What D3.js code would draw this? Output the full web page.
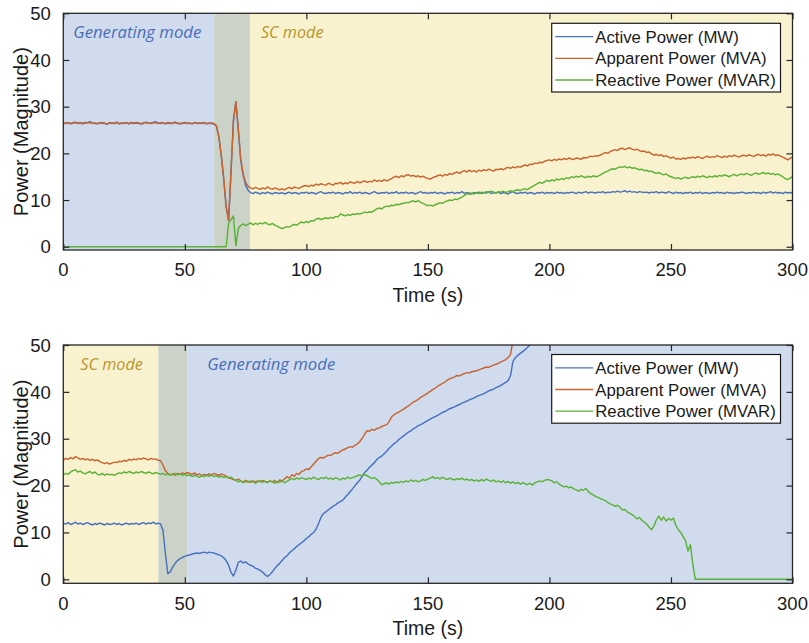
<!DOCTYPE html>
<html>
<head>
<meta charset="utf-8">
<script src="https://cdn.jsdelivr.net/npm/d3@7"></script>
<style>
  html, body { margin: 0; padding: 0; background: #ffffff; }
  svg { display: block; }
  .axis-text { font-family: "Liberation Sans", Arial, Helvetica, sans-serif; fill: #1a1a1a; }
  .mode-text { font-family: "Open Sans", "Lato", sans-serif; font-style: italic; }
</style>
</head>
<body>
<svg id="chart" width="809" height="643"></svg>
<script>
// ---------------------------------------------------------------------------
// Measured power, one sample per second (index = time in seconds)
// ---------------------------------------------------------------------------
const xTicks = [0, 50, 100, 150, 200, 250, 300];
const yTicks = [0, 10, 20, 30, 40, 50];
const seriesNames  = ["Active Power (MW)", "Apparent Power (MVA)", "Reactive Power (MVAR)"];
const seriesColors = ["#4a71bd", "#c8642f", "#5cb236"];

// Operating-mode bands: [start s, end s, kind]
const topBands    = [[0, 62.1, "gen"], [62.1, 76.8, "trans"], [76.8, 300, "sc"]];
const bottomBands = [[0, 39.1, "sc"], [39.1, 51.0, "trans"], [51.0, 300, "gen"]];
const bandColors  = { gen: "#d0dcee", trans: "#cbd3c9", sc: "#f9f2cf" };
const modeNames   = { gen: "Generating mode", sc: "SC mode" };
const modeColors  = { gen: "#4b6db6", sc: "#b8952c" };

// Upper run: generating -> synchronous condenser
const topActive = [
  26.5,26.4,26.6,26.3,26.5,26.7,26.4,26.6,26.3,26.5,
  26.6,26.8,26.4,26.5,26.3,26.6,26.4,26.5,26.2,26.6,
  26.4,26.5,26.7,26.3,26.5,26.4,26.6,26.3,26.5,26.4,
  26.6,26.5,26.3,26.4,26.7,26.5,26.4,26.6,26.8,26.5,
  26.4,26.6,26.3,26.5,26.4,26.5,26.7,26.4,26.3,26.5,
  26.6,26.4,26.5,26.3,26.6,26.4,26.5,26.4,26.6,26.3,
  26.5,26.4,26.3,25.8,23.5,19.5,14.5,8.5,5.6,16.0,
  27.0,31.0,25.0,18.5,15.3,13.2,12.1,11.6,11.4,11.7,
  11.5,11.3,11.6,11.4,11.7,11.5,11.3,11.6,11.5,11.4,
  11.6,11.3,11.5,11.7,11.4,11.6,11.5,11.3,11.6,11.5,
  11.7,11.4,11.6,11.5,11.3,11.6,11.8,11.5,11.4,11.6,
  11.5,11.7,11.4,11.6,11.5,11.3,11.6,11.5,11.8,11.4,
  11.6,11.5,11.7,11.4,11.6,11.5,11.3,11.6,11.8,11.5,
  11.4,11.6,11.5,11.7,11.4,11.6,11.5,11.8,11.4,11.6,
  11.5,11.7,11.4,11.6,11.5,11.3,11.6,11.8,11.5,11.6,
  11.4,11.6,11.5,11.7,11.4,11.6,11.5,11.3,11.6,11.5,
  11.7,11.4,11.6,11.5,11.8,11.4,11.6,11.5,11.3,11.6,
  11.5,11.7,11.4,11.6,11.5,11.8,11.4,11.6,11.5,11.7,
  11.4,11.6,11.5,11.3,11.6,11.8,11.5,11.4,11.6,11.5,
  11.7,11.4,11.6,11.5,11.3,11.6,11.5,11.7,11.4,11.6,
  11.5,11.6,11.4,11.7,11.5,11.6,11.4,11.6,11.5,11.7,
  11.6,11.4,11.7,11.5,11.6,11.8,11.5,11.7,11.6,11.5,
  11.7,11.6,11.8,11.5,11.7,11.6,11.8,11.7,11.9,11.7,
  11.8,12.0,11.7,11.9,11.7,11.8,11.6,11.8,11.7,11.6,
  11.7,11.5,11.7,11.6,11.8,11.5,11.7,11.6,11.5,11.8,
  11.6,11.4,11.7,11.5,11.6,11.4,11.6,11.5,11.7,11.4,
  11.6,11.5,11.7,11.4,11.6,11.5,11.4,11.6,11.5,11.7,
  11.5,11.6,11.4,11.7,11.5,11.6,11.4,11.6,11.5,11.7,
  11.6,11.4,11.6,11.5,11.7,11.5,11.6,11.4,11.7,11.5,
  11.6,11.8,11.5,11.7,11.5,11.6,11.4,11.7,11.5,11.6,
  11.5
];

const topApparent = [
  26.4,26.5,26.5,26.4,26.6,26.5,26.5,26.4,26.5,26.6,
  26.5,26.6,26.5,26.4,26.4,26.5,26.6,26.4,26.3,26.5,
  26.5,26.4,26.6,26.4,26.4,26.5,26.5,26.4,26.6,26.5,
  26.5,26.4,26.4,26.5,26.6,26.4,26.5,26.5,26.6,26.4,
  26.5,26.5,26.4,26.6,26.5,26.4,26.6,26.5,26.4,26.4,
  26.5,26.5,26.4,26.4,26.5,26.5,26.4,26.5,26.5,26.4,
  26.4,26.5,26.4,25.9,23.6,19.6,14.6,8.6,5.7,16.1,
  27.1,31.1,25.2,18.8,15.6,13.8,13.0,12.6,12.4,12.7,
  12.5,12.3,12.6,12.4,12.8,12.5,12.3,12.6,12.4,12.2,
  12.4,12.2,12.5,12.7,12.4,12.8,12.6,12.5,12.8,13.0,
  13.1,12.9,13.2,13.0,13.4,13.2,13.5,13.3,13.2,13.6,
  13.4,13.2,13.6,13.5,13.8,13.4,13.7,13.5,13.9,13.7,
  13.6,14.0,13.7,13.9,14.1,13.8,14.0,13.9,14.3,14.0,
  14.2,14.0,14.4,14.1,14.3,14.6,14.9,15.1,14.8,15.2,
  15.0,15.3,15.4,15.1,15.3,15.0,15.2,14.9,15.1,14.8,
  14.6,14.5,14.8,15.0,15.2,15.4,15.1,15.5,15.3,15.7,
  15.5,15.8,16.0,15.7,16.1,16.3,16.0,16.4,16.1,16.3,
  16.0,16.4,16.2,16.5,16.3,16.6,16.4,16.2,16.6,16.5,
  16.7,16.5,16.8,17.0,16.8,17.1,16.9,17.2,17.0,17.3,
  17.5,17.3,17.7,17.6,17.9,17.8,18.1,18.0,18.3,18.5,
  18.6,18.4,18.7,18.5,18.8,18.6,18.9,18.7,19.0,18.8,
  18.7,19.0,18.9,18.7,19.1,19.0,19.2,19.4,19.3,19.5,
  19.4,19.7,19.9,20.2,20.0,20.4,20.6,20.8,20.6,21.0,
  21.1,20.8,21.0,21.2,20.9,20.7,20.9,20.6,20.4,20.5,
  20.2,20.3,19.9,19.6,19.8,19.5,19.7,19.3,19.5,19.2,
  19.0,19.2,18.8,18.9,18.7,19.0,18.8,19.1,19.0,19.2,
  19.0,19.3,19.1,18.9,19.2,19.4,19.1,19.3,19.2,19.5,
  19.3,19.1,19.4,19.2,19.5,19.3,19.6,19.4,19.2,19.5,
  19.6,19.4,19.7,19.5,19.3,19.6,19.8,19.5,19.7,19.4,
  19.8,19.6,19.9,19.5,19.7,19.4,19.2,18.9,18.6,18.9,
  19.2
];

const topReactive = [
  0,0,0,0,0,0,0,0,0,0,
  0,0,0,0,0,0,0,0,0,0,
  0,0,0,0,0,0,0,0,0,0,
  0,0,0,0,0,0,0,0,0,0,
  0,0,0,0,0,0,0,0,0,0,
  0,0,0,0,0,0,0,0,0,0,
  0,0,0,0,0,0,0,0,5.0,5.8,
  6.6,0.2,3.9,4.6,4.9,4.5,4.8,5.1,4.7,5.0,
  4.8,5.1,4.9,5.2,4.9,4.7,5.0,4.6,4.4,4.1,
  3.9,4.1,4.3,4.2,4.5,4.8,4.6,5.0,5.3,5.1,
  5.4,5.2,5.6,5.5,5.9,6.1,5.8,6.0,6.2,6.0,
  6.3,6.1,6.5,6.4,7.0,6.8,6.6,6.9,6.7,7.0,
  6.9,7.1,7.0,7.2,7.4,7.3,7.5,7.4,7.8,8.1,
  8.3,8.1,8.5,8.7,8.6,8.9,8.8,9.1,9.0,9.2,
  9.3,9.5,9.4,9.7,9.8,9.6,9.9,9.5,9.3,9.0,
  8.8,8.9,8.7,9.0,9.2,9.4,9.3,9.6,9.8,10.0,
  9.9,10.2,10.1,10.4,10.6,11.0,11.4,11.2,11.5,11.3,
  11.6,11.4,11.7,11.5,11.8,11.6,11.9,11.7,11.5,11.8,
  11.7,11.9,11.6,11.8,12.0,11.8,12.1,12.2,12.0,12.3,
  12.4,12.2,12.6,12.9,13.2,13.5,13.8,13.6,13.9,14.2,
  14.0,14.3,14.1,14.5,14.3,14.6,14.4,14.8,14.6,15.0,
  14.8,15.1,14.9,15.2,15.0,14.8,15.1,14.9,15.2,15.0,
  15.1,15.4,15.7,16.0,16.2,16.5,16.7,16.6,16.9,17.1,
  17.0,17.2,16.9,17.1,16.8,16.9,16.7,16.5,16.6,16.3,
  16.4,16.1,16.2,15.9,15.7,15.9,15.6,15.4,15.6,15.2,
  15.0,14.8,14.6,14.8,14.5,14.7,14.9,14.6,14.8,15.0,
  14.8,15.1,14.9,15.2,15.0,14.8,15.1,14.9,15.2,15.0,
  15.3,15.1,15.4,15.2,15.0,15.3,15.5,15.2,15.4,15.6,
  15.4,15.7,15.5,15.3,15.6,15.8,15.5,15.7,15.9,15.6,
  15.8,15.5,15.7,15.4,15.6,15.3,15.0,14.6,14.4,14.7,
  15.0
];

// Lower run: synchronous condenser -> generating (runs off the top past ~190 s)
const bottomActive = [
  12.0,11.8,12.1,11.7,11.9,12.2,11.8,12.0,11.7,11.9,
  12.1,11.8,11.6,11.9,11.7,12.0,11.8,11.6,11.9,11.7,
  11.8,12.0,11.7,11.9,11.6,11.8,12.0,11.7,11.9,11.8,
  12.0,11.7,11.9,12.1,11.8,12.0,11.9,12.2,11.8,12.0,
  11.8,10.5,5.5,1.2,1.6,2.6,3.4,4.0,4.4,4.7,
  4.9,5.1,5.2,5.4,5.5,5.6,5.5,5.7,5.8,5.6,
  5.8,5.7,5.6,5.4,5.2,5.0,4.6,4.0,3.0,1.5,
  0.7,2.0,3.6,3.9,3.5,3.7,3.3,3.0,2.8,2.4,
  2.2,1.9,1.5,1.0,0.6,1.0,1.6,2.3,2.9,3.4,
  4.0,4.6,5.0,5.6,6.1,6.5,7.0,7.4,7.8,8.2,
  8.7,9.1,9.6,10.0,10.7,11.9,13.2,14.0,14.4,14.8,
  15.2,15.6,15.9,16.3,16.6,16.9,17.5,18.1,18.7,19.3,
  20.0,20.6,21.2,22.0,22.8,23.3,23.9,24.4,24.9,25.6,
  26.0,26.3,26.8,27.3,27.9,28.4,28.9,29.3,29.8,30.2,
  30.6,31.0,31.4,31.7,32.1,32.4,32.8,33.0,33.3,33.6,
  33.9,34.2,34.5,34.7,35.0,35.3,35.6,35.8,36.1,36.4,
  36.6,36.8,37.1,37.3,37.6,37.8,38.0,38.3,38.5,38.7,
  39.0,39.2,39.4,39.6,39.9,40.2,40.4,40.6,40.9,41.1,
  41.4,41.7,42.0,42.4,43.5,46.5,47.3,47.8,48.2,48.6,
  49.0,49.5,50.0,51.0
];

const bottomApparent = [
  25.4,25.8,25.6,26.0,25.7,26.2,25.9,25.6,25.8,25.5,
  25.7,25.4,25.6,25.3,25.5,25.1,24.9,24.7,24.9,24.6,
  24.8,25.0,24.9,25.2,25.1,25.4,25.2,25.6,25.4,25.7,
  25.5,25.8,25.6,25.9,25.7,25.5,25.8,25.6,25.7,25.4,
  25.3,24.4,23.2,22.6,22.3,22.5,22.2,22.6,22.4,22.7,
  22.5,22.8,22.6,22.4,22.7,22.3,22.5,22.1,22.4,22.2,
  22.5,22.3,22.6,22.4,22.2,22.5,22.3,22.0,21.7,21.5,
  21.3,21.1,21.4,21.0,20.8,21.1,20.9,20.7,21.0,20.8,
  21.0,20.8,21.1,20.9,20.7,21.0,20.8,21.1,20.6,21.2,
  21.0,21.4,21.9,21.6,22.3,22.0,22.6,22.4,23.0,23.2,
  23.6,23.4,24.0,24.6,25.2,25.8,26.0,25.9,26.2,26.5,
  26.4,26.8,27.0,26.9,27.3,27.6,27.8,28.1,28.3,28.2,
  28.6,28.9,29.4,30.1,31.0,31.7,31.6,32.0,31.8,32.2,
  32.3,32.6,32.8,33.0,33.6,34.6,35.1,35.4,35.7,36.0,
  36.3,36.7,37.0,37.4,37.8,38.1,38.4,38.8,39.1,39.4,
  39.8,40.1,40.5,40.8,41.2,41.5,41.8,42.1,42.5,42.8,
  43.0,43.2,43.5,43.4,43.7,43.9,44.1,44.0,44.3,44.4,
  44.5,44.7,44.9,45.1,45.3,45.2,45.5,45.7,45.9,46.1,
  46.4,46.6,46.9,47.3,48.0,51.0
];

const bottomReactive = [
  22.3,22.6,22.4,22.9,23.2,23.4,22.9,23.1,22.7,22.5,
  22.8,23.0,22.6,22.9,22.4,22.3,22.6,22.2,22.5,22.3,
  22.4,22.2,22.5,22.7,22.6,22.9,22.7,23.0,22.8,22.6,
  22.9,22.7,23.0,22.8,22.6,22.9,22.7,22.5,22.8,22.6,
  22.4,22.6,22.3,22.5,22.2,22.4,22.6,22.3,22.5,22.2,
  22.4,22.1,22.3,21.9,22.2,22.0,21.8,22.1,21.9,22.2,
  22.0,22.2,21.9,22.1,21.8,22.0,21.7,21.9,21.6,21.8,
  21.4,21.1,20.8,21.0,20.6,20.9,20.7,21.0,20.8,20.5,
  20.8,21.0,20.7,20.9,20.6,21.0,20.8,20.5,20.9,20.7,
  21.0,20.6,20.9,21.2,21.5,21.3,21.6,21.4,21.7,21.5,
  21.3,21.6,21.4,21.8,21.5,21.3,21.7,21.5,21.8,21.4,
  21.6,21.3,21.7,21.5,21.2,21.6,21.4,21.8,21.5,21.7,
  21.9,22.1,22.3,22.0,22.4,22.1,21.8,21.5,21.7,21.3,
  20.8,20.2,20.4,20.6,20.3,20.7,20.5,20.8,20.6,20.9,
  20.7,21.0,20.8,21.2,20.9,21.1,20.8,21.0,21.3,21.1,
  21.4,21.6,21.9,21.5,21.7,21.4,21.8,21.5,21.3,21.6,
  21.4,21.2,21.5,21.3,21.6,21.2,21.4,21.1,21.3,21.0,
  21.2,20.9,21.3,21.0,21.4,21.1,20.9,21.2,20.8,21.0,
  20.7,21.0,20.6,20.9,20.5,20.8,20.4,20.7,20.3,20.6,
  20.4,20.2,20.5,20.1,20.6,20.8,21.0,20.8,21.1,21.3,
  21.2,21.0,20.6,20.8,20.3,20.0,19.7,19.9,19.5,19.7,
  19.3,19.1,18.8,19.2,19.0,19.4,18.7,18.3,18.0,17.7,
  17.5,17.2,17.0,16.8,16.4,16.1,15.9,15.6,15.8,15.4,
  14.8,14.9,14.4,14.1,13.8,13.4,12.9,13.2,12.6,12.2,
  11.8,11.1,10.6,11.4,12.7,13.5,12.6,13.3,12.4,13.0,
  12.6,13.1,11.5,10.6,10.0,9.1,8.2,6.0,7.4,3.2,
  0,0,0,0,0,0,0,0,0,0,
  0,0,0,0,0,0,0,0,0,0,
  0,0,0,0,0,0,0,0,0,0,
  0,0,0,0,0,0,0,0,0,0,
  0
];

// ---------------------------------------------------------------------------
// Layout of the two stacked axes
// ---------------------------------------------------------------------------
const panels = [
  { id: "top", left: 63.3, right: 792.5, top: 13.3, bottom: 250.0, yMin: -0.7,
    bands: topBands, series: [topActive, topApparent, topReactive],
    modeLabels: [["gen", 0, 10], ["sc", 76.8, 11]], legendTop: 23.3, timeBaseline: 302 },
  { id: "bottom", left: 63.3, right: 792.5, top: 345.0, bottom: 583.3, yMin: -0.85,
    bands: bottomBands, series: [bottomActive, bottomApparent, bottomReactive],
    modeLabels: [["sc", 0, 17], ["gen", 51.0, 20]], legendTop: 354.5, timeBaseline: 635 }
];

const svg = d3.select("#chart");
const tickFont = 18.5, labelFont = 19.5, legendFont = 16.8, modeFont = 16.5;
const axisColor = "#262626";
const tickLen = 6;

panels.forEach(p => {
  const x = d3.scaleLinear().domain([0, 300]).range([p.left, p.right]);
  const y = d3.scaleLinear().domain([p.yMin, 50]).range([p.bottom, p.top]);
  const g = svg.append("g").attr("class", "panel-" + p.id);

  const clipId = "clip-" + p.id;
  svg.append("defs").append("clipPath").attr("id", clipId)
    .append("rect")
    .attr("x", p.left).attr("y", p.top)
    .attr("width", p.right - p.left).attr("height", p.bottom - p.top);

  // mode background bands
  g.append("g").selectAll("rect").data(p.bands).join("rect")
    .attr("x", d => x(d[0]))
    .attr("y", p.top)
    .attr("width", d => x(d[1]) - x(d[0]))
    .attr("height", p.bottom - p.top)
    .attr("fill", d => bandColors[d[2]]);

  // mode captions
  g.append("g").selectAll("text").data(p.modeLabels).join("text")
    .attr("class", "mode-text")
    .attr("x", d => x(d[1]) + d[2])
    .attr("y", p.top + 24.5)
    .attr("font-size", modeFont)
    .attr("fill", d => modeColors[d[0]])
    .attr("textLength", d => d[0] === "gen" ? 128 : 62.5)
    .attr("lengthAdjust", "spacingAndGlyphs")
    .text(d => modeNames[d[0]]);

  // data lines
  const line = d3.line()
    .x((d, i) => x(i))
    .y(d => y(d));
  g.append("g").attr("clip-path", `url(#${clipId})`)
    .selectAll("path").data(p.series).join("path")
    .attr("d", d => line(d))
    .attr("fill", "none")
    .attr("stroke", (d, i) => seriesColors[i])
    .attr("stroke-width", 1.45)
    .attr("stroke-linejoin", "round");

  // axes (inward ticks on all four sides, MATLAB style box)
  const axB = d3.axisBottom(x).tickValues(xTicks).tickSizeInner(-tickLen).tickSizeOuter(0).tickFormat("");
  const axT = d3.axisTop(x).tickValues(xTicks).tickSizeInner(-tickLen).tickSizeOuter(0).tickFormat("");
  const axL = d3.axisLeft(y).tickValues(yTicks).tickSizeInner(-tickLen).tickSizeOuter(0).tickFormat("");
  const axR = d3.axisRight(y).tickValues(yTicks).tickSizeInner(-tickLen).tickSizeOuter(0).tickFormat("");
  const axes = [
    [axB, `translate(0,${p.bottom})`],
    [axT, `translate(0,${p.top})`],
    [axL, `translate(${p.left},0)`],
    [axR, `translate(${p.right},0)`]
  ];
  axes.forEach(([ax, tr]) => {
    const a = g.append("g").attr("transform", tr).call(ax);
    a.select(".domain").remove();
    a.selectAll(".tick line").attr("stroke", axisColor).attr("stroke-width", 1.2);
  });

  g.append("rect")
    .attr("x", p.left).attr("y", p.top)
    .attr("width", p.right - p.left).attr("height", p.bottom - p.top)
    .attr("fill", "none").attr("stroke", axisColor).attr("stroke-width", 1.3);

  // tick labels
  g.append("g").selectAll("text").data(xTicks).join("text")
    .attr("class", "axis-text")
    .attr("x", d => x(d))
    .attr("y", p.bottom + 13 + tickFont * 0.72)
    .attr("text-anchor", "middle")
    .attr("font-size", tickFont)
    .text(d => d);

  g.append("g").selectAll("text").data(yTicks).join("text")
    .attr("class", "axis-text")
    .attr("x", p.left - 12.5)
    .attr("y", d => y(d) + tickFont * 0.36)
    .attr("text-anchor", "end")
    .attr("font-size", tickFont)
    .text(d => d);

  // axis titles
  g.append("text")
    .attr("class", "axis-text")
    .attr("x", (p.left + p.right) / 2)
    .attr("y", p.timeBaseline)
    .attr("text-anchor", "middle")
    .attr("font-size", labelFont)
    .text("Time (s)");

  g.append("text")
    .attr("class", "axis-text")
    .attr("transform", `translate(27.5,${(p.top + p.bottom) / 2}) rotate(-90)`)
    .attr("text-anchor", "middle")
    .attr("font-size", labelFont + 0.5)
    .text("Power (Magnitude)");

  // legend
  const lgX = 551.7, lgW = 228.8, lgH = 68.7, rowGap = 21.7;
  const lg = g.append("g").attr("transform", `translate(${lgX},${p.legendTop})`);
  lg.append("rect")
    .attr("width", lgW).attr("height", lgH)
    .attr("fill", "#ffffff").attr("stroke", "#1a1a1a").attr("stroke-width", 1.2);
  const rows = lg.selectAll("g").data(seriesNames).join("g")
    .attr("transform", (d, i) => `translate(0,${13.3 + i * rowGap})`);
  rows.append("line")
    .attr("x1", 3.5).attr("x2", 41.5)
    .attr("stroke", (d, i) => seriesColors[i]).attr("stroke-width", 1.3);
  rows.append("text")
    .attr("class", "axis-text")
    .attr("x", 43.5)
    .attr("y", legendFont * 0.36)
    .attr("font-size", legendFont)
    .text(d => d);
});
</script>
</body>
</html>
